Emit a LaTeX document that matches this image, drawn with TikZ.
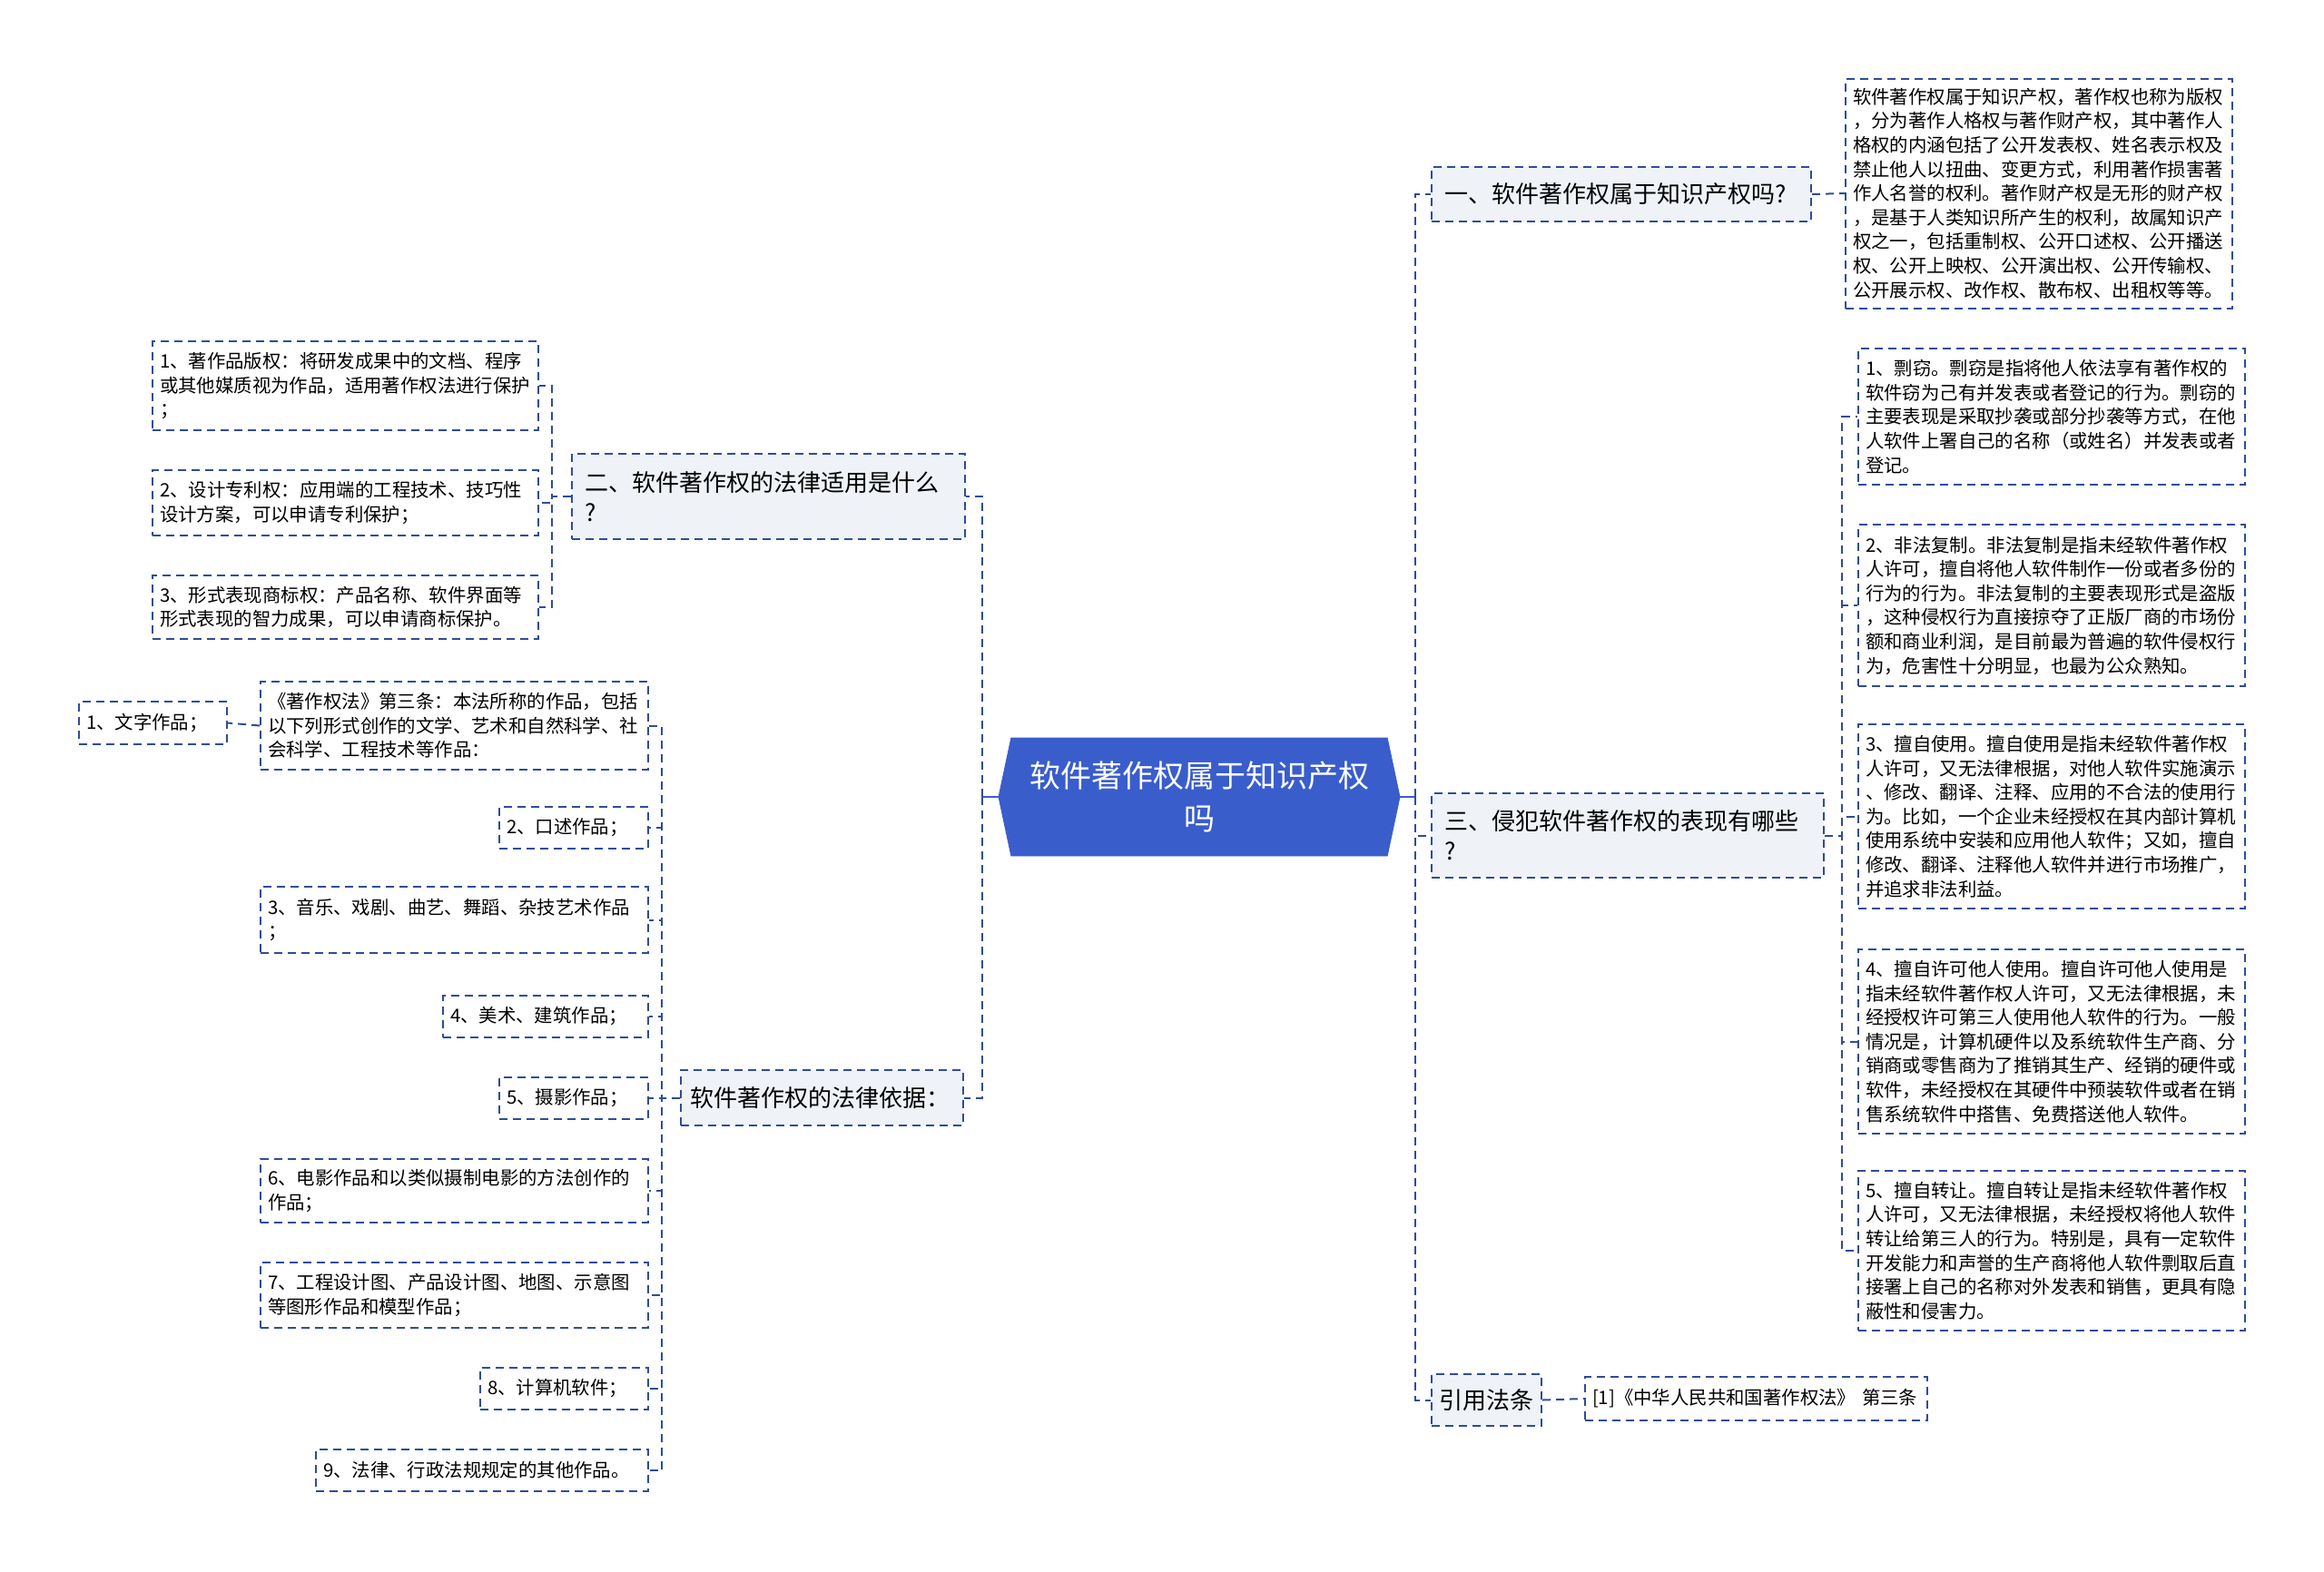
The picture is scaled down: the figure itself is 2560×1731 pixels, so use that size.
\documentclass[tikz,border=0pt]{standalone}
\usepackage{fontspec}
\setmainfont{Noto Sans CJK SC}
\usetikzlibrary{shapes.symbols}
\definecolor{rootblue}{HTML}{3A5DCC}
\definecolor{linkblue}{HTML}{2E4C9A}
\definecolor{branchfill}{HTML}{EFF2F7}

\begin{document}
\begin{tikzpicture}[x=0.5pt, y=-0.5pt,
		root/.style={signal, signal to=west and east, signal pointer angle=156,
			fill=rootblue, draw=rootblue, text=white, align=center,
			font=\fontsize{17}{23.5}\selectfont,
			minimum width=221pt, minimum height=65pt, inner sep=2pt},
		item/.style={draw=linkblue, line width=1pt, dash pattern=on 4.5pt off 3pt,
			fill=white, align=left, font=\fontsize{10.2}{13.3}\selectfont,
			inner xsep=4pt, inner ysep=3pt},
		branch/.style={item, fill=branchfill, font=\fontsize{13}{16.5}\selectfont,
			inner xsep=7pt},
		link/.style={linkblue, line width=1pt, dash pattern=on 4.5pt off 3pt},
		rootline/.style={rootblue, line width=1.2pt}
		]
		\useasboundingbox (0,0) rectangle (2560,1731);
		
		% Root
		\node[root] (root) at (1321,878) {软件著作权属于知识产权\\吗};
		\coordinate (rL) at (1082,878);
		\coordinate (rR) at (1559,878);
		
		% Right branches
		\node[branch, text width=195pt, minimum height=30pt] (b1) at (1786,214)
		{一、软件著作权属于知识产权吗?};
		\node[branch, text width=202pt, minimum height=46.5pt] (b3) at (1793,920.5)
		{三、侵犯软件著作权的表现有哪些\\?};
		\node[branch, inner xsep=3pt, text width=54.5pt, align=center, minimum height=28.5pt] (b4) at (1637.5,1542.5)
		{引用法条};
		
		\node[item, text width=205pt, minimum height=126.5pt] (t1) at (2246,213)
		{软件著作权属于知识产权，著作权也称为版权\\，分为著作人格权与著作财产权，其中著作人\\格权的内涵包括了公开发表权、姓名表示权及\\禁止他人以扭曲、变更方式，利用著作损害著\\作人名誉的权利。著作财产权是无形的财产权\\，是基于人类知识所产生的权利，故属知识产\\权之一，包括重制权、公开口述权、公开播送\\权、公开上映权、公开演出权、公开传输权、\\公开展示权、改作权、散布权、出租权等等。};
		
		\node[item, text width=205pt, minimum height=75pt] (c1) at (2260,459)
		{1、剽窃。剽窃是指将他人依法享有著作权的\\软件窃为己有并发表或者登记的行为。剽窃的\\主要表现是采取抄袭或部分抄袭等方式，在他\\人软件上署自己的名称（或姓名）并发表或者\\登记。};
		\node[item, text width=205pt, minimum height=89pt] (c2) at (2260,667)
		{2、非法复制。非法复制是指未经软件著作权\\人许可，擅自将他人软件制作一份或者多份的\\行为的行为。非法复制的主要表现形式是盗版\\，这种侵权行为直接掠夺了正版厂商的市场份\\额和商业利润，是目前最为普遍的软件侵权行\\为，危害性十分明显，也最为公众熟知。};
		\node[item, text width=205pt, minimum height=101.5pt] (c3) at (2260,899.5)
		{3、擅自使用。擅自使用是指未经软件著作权\\人许可，又无法律根据，对他人软件实施演示\\、修改、翻译、注释、应用的不合法的使用行\\为。比如，一个企业未经授权在其内部计算机\\使用系统中安装和应用他人软件；又如，擅自\\修改、翻译、注释他人软件并进行市场推广，\\并追求非法利益。};
		\node[item, text width=205pt, minimum height=101.5pt] (c4) at (2260,1147.5)
		{4、擅自许可他人使用。擅自许可他人使用是\\指未经软件著作权人许可，又无法律根据，未\\经授权许可第三人使用他人软件的行为。一般\\情况是，计算机硬件以及系统软件生产商、分\\销商或零售商为了推销其生产、经销的硬件或\\软件，未经授权在其硬件中预装软件或者在销\\售系统软件中搭售、免费搭送他人软件。};
		\node[item, text width=205pt, minimum height=88pt] (c5) at (2260,1378)
		{5、擅自转让。擅自转让是指未经软件著作权\\人许可，又无法律根据，未经授权将他人软件\\转让给第三人的行为。特别是，具有一定软件\\开发能力和声誉的生产商将他人软件剽取后直\\接署上自己的名称对外发表和销售，更具有隐\\蔽性和侵害力。};
		
		\node[item, text width=180.5pt, minimum height=24pt] (t4) at (1934.5,1541)
		{[1]《中华人民共和国著作权法》 第三条};
		
		% Left branches
		\node[branch, text width=202.5pt, minimum height=47pt] (b2) at (846.5,547)
		{二、软件著作权的法律适用是什么\\?};
		\node[branch, inner xsep=5pt, text width=145.5pt, minimum height=30.5pt] (b5) at (905.5,1209.5)
		{软件著作权的法律依据：};
		
		\node[item, text width=204.5pt, minimum height=49pt] (a1) at (380.5,425)
		{1、著作品版权：将研发成果中的文档、程序\\或其他媒质视为作品，适用著作权法进行保护\\；};
		\node[item, text width=204.5pt, minimum height=36pt] (a2) at (380.5,554)
		{2、设计专利权：应用端的工程技术、技巧性\\设计方案，可以申请专利保护；};
		\node[item, text width=204.5pt, minimum height=35pt] (a3) at (380.5,669)
		{3、形式表现商标权：产品名称、软件界面等\\形式表现的智力成果，可以申请商标保护。};
		
		\node[item, text width=205.5pt, minimum height=48.5pt] (d0) at (500.5,799.5)
		{《著作权法》第三条：本法所称的作品，包括\\以下列形式创作的文学、艺术和自然科学、社\\会科学、工程技术等作品：};
		\node[item, text width=73.5pt, minimum height=23.5pt] (w1) at (168.5,796.5)
		{1、文字作品；};
		\node[item, text width=74pt, minimum height=23pt] (d2) at (632,912)
		{2、口述作品；};
		\node[item, text width=205.5pt, minimum height=36.5pt] (d3) at (500.5,1013.5)
		{3、音乐、戏剧、曲艺、舞蹈、杂技艺术作品\\；};
		\node[item, text width=105pt, minimum height=23pt] (d4) at (601,1120)
		{4、美术、建筑作品；};
		\node[item, text width=74pt, minimum height=23pt] (d5) at (632,1210)
		{5、摄影作品；};
		\node[item, text width=205.5pt, minimum height=35pt] (d6) at (500.5,1312)
		{6、电影作品和以类似摄制电影的方法创作的\\作品；};
		\node[item, text width=205.5pt, minimum height=36pt] (d7) at (500.5,1427)
		{7、工程设计图、产品设计图、地图、示意图\\等图形作品和模型作品；};
		\node[item, text width=84.5pt, minimum height=23pt] (d8) at (621.5,1530)
		{8、计算机软件；};
		\node[item, text width=175pt, minimum height=23pt] (d9) at (531,1620)
		{9、法律、行政法规规定的其他作品。};
		
		% Connectors
		\draw[rootline] (root.west) -- (rL);
		\draw[rootline] (root.east) -- (rR);
		\foreach \b in {b1,b3,b4} \draw[link] (rR) |- (\b.west);
		\foreach \b in {b2,b5} \draw[link] (rL) |- (\b.east);
		\draw[link] (b1.east) -- (t1.west);
		\draw[link] (b4.east) -- (t4.west);
		\foreach \c in {c1,c2,c3,c4,c5}
		\draw[link] (b3.east) -- ++(19,0) |- (\c.west);
		\foreach \a in {a1,a2,a3}
		\draw[link] (b2.west) -- ++(-21,0) |- (\a.east);
		\foreach \d in {d0,d2,d3,d4,d5,d6,d7,d8,d9}
		\draw[link] (b5.west) -- ++(-20,0) |- (\d.east);
		\draw[link] (d0.west) -- (w1.east);
	\end{tikzpicture}
\end{document}
